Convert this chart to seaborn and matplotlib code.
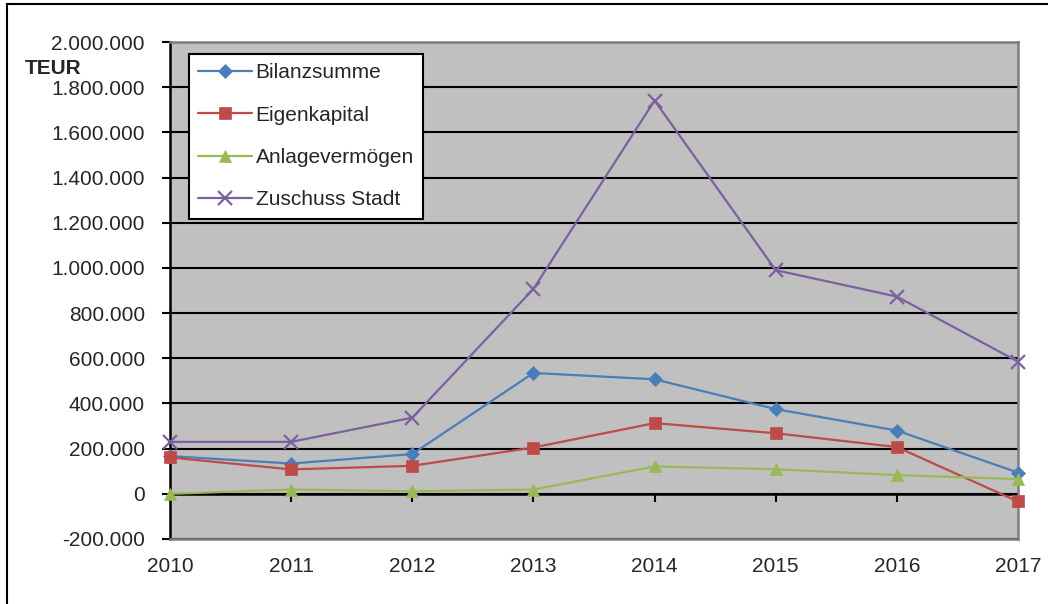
import matplotlib
matplotlib.use("Agg")
import matplotlib.pyplot as plt
import matplotlib.ticker as mticker
from matplotlib.patches import Rectangle
import seaborn as sns
import pandas as pd

years = [2010, 2011, 2012, 2013, 2014, 2015, 2016, 2017]
bilanzsumme = [167000, 134000, 176000, 535000, 507000, 375000, 280000, 94000]
eigenkapital = [161000, 108000, 124000, 205000, 313000, 268000, 207000, -34000]
anlagevermoegen = [0, 19000, 11000, 19000, 121000, 109000, 83000, 65000]
zuschuss_stadt = [230000, 230000, 337000, 907000, 1741000, 990000, 873000, 585000]

series_names = ["Bilanzsumme", "Eigenkapital", "Anlagevermögen", "Zuschuss Stadt"]
series_values = [bilanzsumme, eigenkapital, anlagevermoegen, zuschuss_stadt]
colors = ["#4A7EBB", "#BE4B48", "#98B954", "#7D60A0"]
markers = ["D", "s", "^", "x"]
msizes = [7, 9, 9, 10]

sns.set_style("white")
plt.rcParams["font.family"] = ["Liberation Sans", "DejaVu Sans"]
plt.rcParams["font.size"] = 15

W, H = 1048, 604
fig = plt.figure(figsize=(W / 100, H / 100), dpi=100)
ax = fig.add_axes([170 / W, 1 - 539 / H, (1018 - 170) / W, (539 - 42) / H])

for name, vals, c, m, ms in zip(series_names, series_values, colors, markers, msizes):
    df = pd.DataFrame({"Jahr": years, "Wert": vals})
    sns.lineplot(data=df, x="Jahr", y="Wert", ax=ax, color=c, marker=m,
                 markersize=ms, markeredgecolor=c, markeredgewidth=1.6 if m == "x" else 0.5,
                 linewidth=1.6, label=name, clip_on=False, zorder=5)

ax.set_facecolor("#C0C0C0")
ax.set_xlim(2010, 2017)
ax.set_ylim(-200000, 2000000)
ax.yaxis.set_major_locator(mticker.MultipleLocator(200000))
ax.yaxis.set_major_formatter(mticker.FuncFormatter(lambda v, p: f"{int(round(v)):,}".replace(",", ".")))
ax.set_xticks(years)
ax.set_xticklabels([str(y) for y in years])
ax.set_xlabel("")
ax.set_ylabel("")

ax.grid(axis="y", color="black", linewidth=1.5, zorder=1)
ax.grid(axis="x", visible=False)
ax.set_axisbelow(True)

for s in ["top", "right", "bottom"]:
    ax.spines[s].set_color("#7F7F7F")
    ax.spines[s].set_linewidth(1.8)
ax.spines["left"].set_color("black")
ax.spines["left"].set_linewidth(1.8)

ax.tick_params(axis="y", which="major", direction="out", length=6, width=1.5,
               color="black", pad=12, left=True, labelsize=15)
ax.tick_params(axis="x", which="major", length=0, pad=13, labelsize=15)

# zero axis line with ticks
ax.axhline(0, color="black", linewidth=1.8, zorder=2)
sec = ax.secondary_xaxis(0, transform=ax.transData)
sec.set_xticks(years)
sec.tick_params(axis="x", direction="out", length=6, width=1.5, color="black", labelbottom=False)
for s in sec.spines.values():
    s.set_visible(False)

leg = ax.legend(loc="upper left", bbox_to_anchor=(189 / W, 1 - 54 / H),
                bbox_transform=fig.transFigure, borderaxespad=0, frameon=True,
                fancybox=False, framealpha=1, edgecolor="black", fontsize=15,
                handlelength=2.55, handletextpad=0.2, labelspacing=1.12,
                borderpad=0.45)
leg.get_frame().set_linewidth(1.5)
leg.set_zorder(10)

fig.text(25 / W, 1 - 69 / H, "TEUR", fontsize=15, fontweight="bold", va="center", ha="left")

fig.patches.append(Rectangle((7 / W, -0.1), 1.2, 1 - 4 / H + 0.1, transform=fig.transFigure,
                             fill=False, edgecolor="black", linewidth=1.5))

fig.savefig("out.png", dpi=100, facecolor="white")
